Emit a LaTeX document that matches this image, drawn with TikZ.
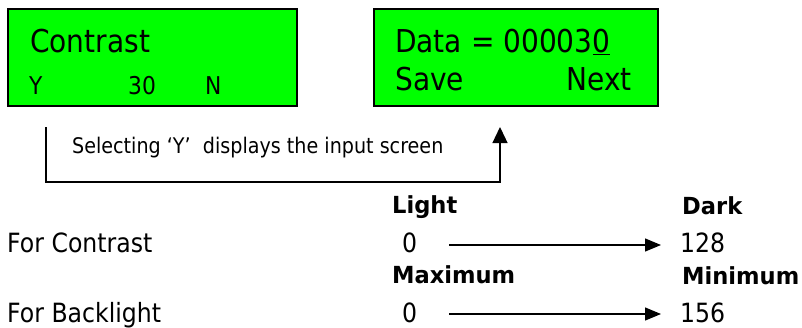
\documentclass[tikz,border=0pt]{standalone}
\usepackage{fontspec}
\setmainfont{DejaVu Sans}[FakeStretch=0.89, BoldFeatures={FakeStretch=0.96}]
\usetikzlibrary{arrows.meta}
\definecolor{lcdgreen}{RGB}{0,255,0}
\tikzset{
  lcd/.style={draw=black, line width=2pt, fill=lcdgreen},
  txt/.style={inner sep=0pt, anchor=base west},
  big/.style={font=\fontsize{31.5}{35}\selectfont},
  mid/.style={font=\fontsize{24.5}{28}\selectfont},
  body/.style={font=\fontsize{26.5}{30}\selectfont},
  note/.style={font=\fontsize{21.5}{25}\selectfont},
  head/.style={font=\bfseries\fontsize{23.5}{27}\selectfont},
  link/.style={line width=1.3pt, -{Triangle[length=16pt,width=15pt]}},
  spanarrow/.style={line width=1.3pt, -{Triangle[length=16pt,width=13pt]}}
}
\begin{document}
\begin{tikzpicture}[x=1pt,y=-1pt]
  \useasboundingbox (0,0) rectangle (802,327);

  % LCD screens
  \draw[lcd] (8,9) rectangle (297,106);
  \draw[lcd] (374,9) rectangle (658,106);

  \node[txt,big] (contrast) at (30,52) {Contrast};
  \node[txt,mid] (yes) at (29,94) {Y};
  \node[txt,mid] (val) at (128,94) {30};
  \node[txt,mid] (no) at (205,94) {N};

  \node[txt,big] (data) at (395,52) {Data = 00003\underline{0}};
  \node[txt,big] (save) at (395,90) {Save};
  \node[txt,big,anchor=base east] (next) at (632,90) {Next};

  % transition from the first screen to the input screen
  \coordinate (from) at (46,127);
  \coordinate (to) at (500,127);
  \draw[link] (from) -- (46,182) -| (to);
  \node[txt,note] (hint) at (72,153) {Selecting ‘Y’\ \ displays the input screen};

  % value ranges
  \node[txt,head] (light) at (392,213) {Light};
  \node[txt,head] (dark) at (682,214) {Dark};
  \node[txt,body] (forc) at (7,252) {For Contrast};
  \node[txt,body] (c0) at (402,252) {0};
  \node[txt,body] (c128) at (680,252) {128};
  \coordinate (ca) at (449,245);
  \coordinate (cb) at (661,245);
  \draw[spanarrow] (ca) -- (cb);

  \node[txt,head] (max) at (392,283) {Maximum};
  \node[txt,head] (min) at (682,284) {Minimum};
  \node[txt,body] (forb) at (7,322) {For Backlight};
  \node[txt,body] (b0) at (402,322) {0};
  \node[txt,body] (b156) at (680,322) {156};
  \coordinate (ba) at (449,314);
  \coordinate (bb) at (661,314);
  \draw[spanarrow] (ba) -- (bb);
\end{tikzpicture}
\end{document}
